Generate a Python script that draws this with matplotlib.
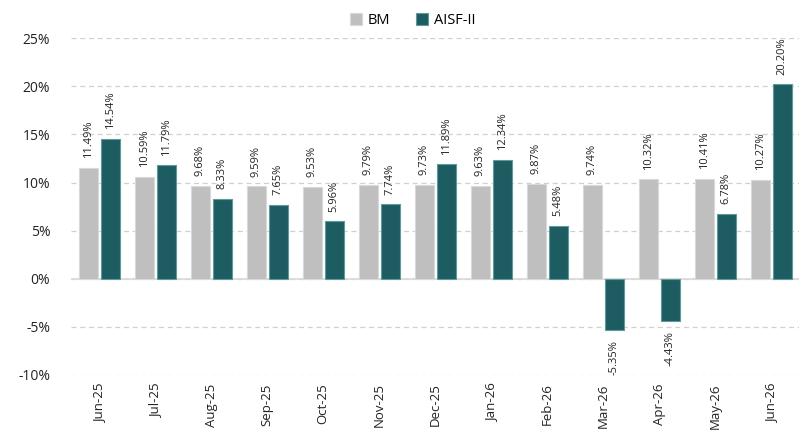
import matplotlib
matplotlib.use("Agg")
import matplotlib.pyplot as plt
import numpy as np

categories = ["Jun-25", "Jul-25", "Aug-25", "Sep-25", "Oct-25", "Nov-25", "Dec-25",
              "Jan-26", "Feb-26", "Mar-26", "Apr-26", "May-26", "Jun-26"]
bm = [11.49, 10.59, 9.68, 9.59, 9.53, 9.79, 9.73, 9.63, 9.87, 9.74, 10.32, 10.41, 10.27]
aisf = [14.54, 11.79, 8.33, 7.65, 5.96, 7.74, 11.89, 12.34, 5.48, -5.35, -4.43, 6.78, 20.20]
yticks = [-10, -5, 0, 5, 10, 15, 20, 25]

plt.rcParams['font.family'] = ['Open Sans', 'DejaVu Sans']

fig = plt.figure(figsize=(8.09, 4.34), dpi=100)
ax = fig.add_axes([0.088, 0.136, 0.900, 0.776])

x = np.arange(len(categories))
w = 0.34
gap = 0.05
c_bm = "#BFBFBF"
c_ai = "#1D5C60"
b1 = ax.bar(x - (w + gap) / 2, bm, w, color=c_bm, edgecolor="#D9D9D9", linewidth=0.8, label="BM", zorder=3)
b2 = ax.bar(x + (w + gap) / 2, aisf, w, color=c_ai, edgecolor="#5F9A9C", linewidth=0.8, label="AISF-II", zorder=3)

for bars, vals in ((b1, bm), (b2, aisf)):
    for r, v in zip(bars, vals):
        cx = r.get_x() + r.get_width() / 2
        if v >= 0:
            ax.annotate(f"{v:.2f}%", (cx, v), xytext=(0, 7), textcoords="offset points",
                        rotation=90, ha="center", va="bottom", fontsize=8, color="#222222")
        else:
            ax.annotate(f"{v:.2f}%", (cx, v), xytext=(0, -7), textcoords="offset points",
                        rotation=90, ha="center", va="top", fontsize=8, color="#222222")

ax.set_xlim(-0.5, len(categories) - 0.5)
ax.set_ylim(-10, 25)
ax.set_yticks(yticks)
ax.set_yticklabels([f"{t}%" for t in yticks], fontsize=10, color="#222222")
ax.set_xticks(x)
ax.set_xticklabels(categories, rotation=90, fontsize=9.5, color="#222222")
ax.tick_params(axis="x", length=0, pad=6)
ax.tick_params(axis="y", length=0, pad=15)

for s in ax.spines.values():
    s.set_visible(False)
ax.yaxis.grid(True, linestyle=(0, (4, 3)), color="#D0D0D0", linewidth=0.9, zorder=0)
ax.axhline(0, color="#D9D9D9", linewidth=1.2, zorder=2)

leg = fig.legend(handles=[b1, b2], labels=["BM", "AISF-II"], loc="upper center",
                 bbox_to_anchor=(0.51, 1.0), ncol=2, frameon=False, fontsize=10.5,
                 handlelength=0.8, handleheight=0.8, handletextpad=0.4, columnspacing=1.8)

fig.savefig("out.png", dpi=100)
